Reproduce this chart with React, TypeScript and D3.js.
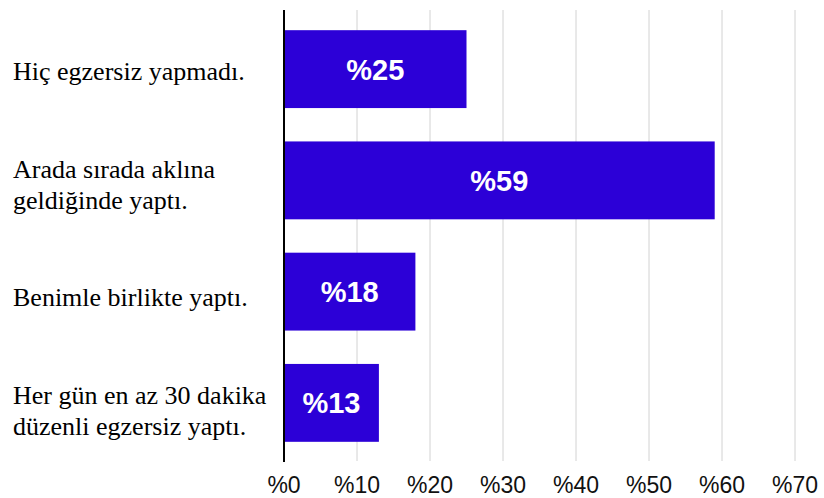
import React from "react";
import * as d3 from "d3";

const categories: string[][] = [
  ["Hiç egzersiz yapmadı."],
  ["Arada sırada aklına", "geldiğinde yaptı."],
  ["Benimle birlikte yaptı."],
  ["Her gün en az 30 dakika", "düzenli egzersiz yaptı."],
];
const values: number[] = [25, 59, 18, 13];
const tickValues: number[] = [0, 10, 20, 30, 40, 50, 60, 70];

const W = 824;
const H = 498;
const x0 = 284;
const x1 = 795;
const yTop = 13.5;
const yBottom = 458.5;

export default function App() {
  const x = d3.scaleLinear().domain([0, 70]).range([x0, x1]);
  const y = d3
    .scaleBand<number>()
    .domain(values.map((_, i) => i))
    .range([yTop, yBottom])
    .paddingInner(0.3)
    .paddingOuter(0.15);
  const yLabel = d3
    .scaleBand<number>()
    .domain(values.map((_, i) => i))
    .range([15, 467]);

  return (
    <div style={{ position: "fixed", left: 0, top: 0 }}>
      <svg width={W} height={H} style={{ display: "block", background: "#fff" }}>
        {tickValues.slice(1).map((t) => (
          <line
            key={"g" + t}
            x1={x(t)}
            x2={x(t)}
            y1={10}
            y2={461}
            stroke="#d2d2d2"
            strokeWidth={1}
          />
        ))}
        {values.map((v, i) => (
          <g key={"b" + i}>
            <rect
              x={x(0)}
              y={y(i)!}
              width={x(v) - x(0)}
              height={y.bandwidth()}
              fill="#2c00d7"
            />
            <text
              x={(x(0) + x(v)) / 2}
              y={y(i)! + y.bandwidth() / 2}
              dy="0.36em"
              textAnchor="middle"
              fill="#fff"
              fontFamily="Liberation Sans, Arial, sans-serif"
              fontWeight="bold"
              fontSize={29}
            >
              {"%" + v}
            </text>
          </g>
        ))}
        <line x1={x(0)} x2={x(0)} y1={10} y2={462} stroke="#000" strokeWidth={2} />
        {tickValues.map((t) => (
          <text
            key={"t" + t}
            x={x(t)}
            y={493}
            textAnchor="middle"
            fill="#111"
            fontFamily="Liberation Sans, Arial, sans-serif"
            fontSize={23}
          >
            {"%" + t}
          </text>
        ))}
        {categories.map((lines, i) => {
          const cy = yLabel(i)! + yLabel.bandwidth() / 2;
          const lh = 31;
          const start = cy - ((lines.length - 1) * lh) / 2;
          return (
            <text
              key={"c" + i}
              fill="#000"
              fontFamily="Liberation Serif, Times New Roman, serif"
              fontSize={26}
            >
              {lines.map((l, j) => (
                <tspan key={j} x={13} y={start + j * lh} dy="0.33em">
                  {l}
                </tspan>
              ))}
            </text>
          );
        })}
      </svg>
    </div>
  );
}
